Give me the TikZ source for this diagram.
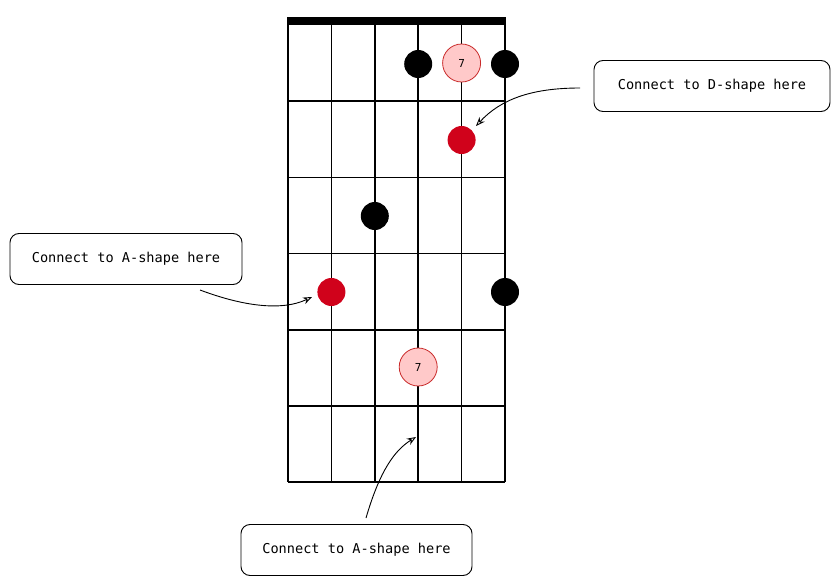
\documentclass[tikz,border=0pt]{standalone}
\usepackage{fontspec}
\newfontfamily\hand{DejaVu Sans Mono}
\usetikzlibrary{arrows.meta}
\definecolor{dotred}{HTML}{D0021B}
\definecolor{pinkfill}{HTML}{FFC9C9}
\definecolor{pinkline}{HTML}{C92A2A}
\tikzset{
  x=1pt,y=-1pt,
  grid/.style={line width=1.6pt,black},
  blk/.style={circle,fill=black,minimum size=28pt,inner sep=0pt},
  redd/.style={circle,fill=dotred,minimum size=28pt,inner sep=0pt},
  seven/.style={circle,fill=pinkfill,draw=pinkline,line width=0.8pt,minimum size=38pt,inner sep=0pt,font=\hand\fontsize{11}{13}\selectfont},
  callout/.style={draw,rounded corners=9pt,line width=0.9pt,font=\hand\fontsize{13.6}{16}\selectfont,inner sep=0pt,minimum height=51pt,fill=white},
  arr/.style={line width=0.9pt,-{Stealth[open,length=9pt,width=7pt]}}
}
\begin{document}
\begin{tikzpicture}
\useasboundingbox (0,0) rectangle (836,586);
\foreach \x in {288,331.4,374.8,418.2,461.6,505}{\draw[grid] (\x,25) -- (\x,482);}
\foreach \y in {101.2,177.4,253.6,329.8,406,482}{\draw[grid] (288,\y) -- (505,\y);}
\fill (287.2,17) rectangle (505.8,25);
\node[blk] (d1) at (418.2,64) {};
\node[seven] (s1) at (461.6,63) {7};
\node[blk] (d2) at (505,64) {};
\node[redd] (r1) at (461.6,140) {};
\node[blk] (d3) at (374.8,216) {};
\node[redd] (r2) at (331.4,292) {};
\node[blk] (d4) at (505,292) {};
\node[seven] (s2) at (418.2,367) {7};
\node[callout,minimum width=236pt] (cD) at (712,86) {Connect to D-shape here};
\node[callout,minimum width=232pt] (cA) at (126,259) {Connect to A-shape here};
\node[callout,minimum width=231pt] (cB) at (356.5,550) {Connect to A-shape here};
\coordinate (aD) at (580,88);
\coordinate (tD) at (476,126);
\coordinate (aA) at (200,290);
\coordinate (tA) at (312,297);
\coordinate (aB) at (366,518);
\coordinate (tB) at (416,437);
\draw[arr] (aD) .. controls (530,88) and (500,100) .. (tD);
\draw[arr] (aA) .. controls (240,305) and (280,312) .. (tA);
\draw[arr] (aB) .. controls (380,470) and (395,450) .. (tB);
\end{tikzpicture}
\end{document}
